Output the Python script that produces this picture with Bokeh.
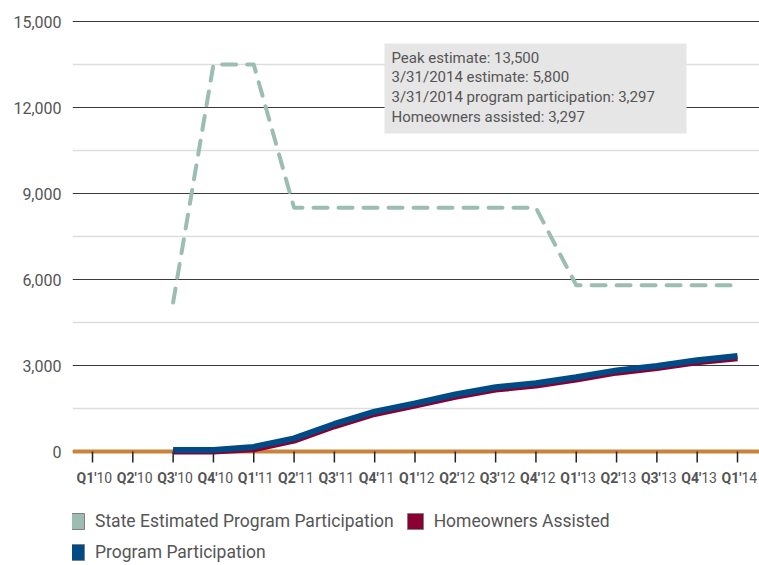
import math
from bokeh.plotting import figure
from bokeh.models import (Range1d, FixedTicker, NumeralTickFormatter, Span, Legend,
                          LegendItem, Label, BoxAnnotation)
from bokeh.core.properties import value
from bokeh.embed import file_html
from bokeh.resources import INLINE

NaN = float("nan")

quarters = ["Q1'10", "Q2'10", "Q3'10", "Q4'10", "Q1'11", "Q2'11", "Q3'11", "Q4'11",
            "Q1'12", "Q2'12", "Q3'12", "Q4'12", "Q1'13", "Q2'13", "Q3'13", "Q4'13", "Q1'14"]

state_estimated = [NaN, NaN, 5200, 13500, 13500, 8500, 8500, 8500, 8500, 8500, 8500, 8500,
                   5800, 5800, 5800, 5800, 5800]
program_participation = [NaN, NaN, 50, 50, 160, 460, 960, 1390, 1680, 1990, 2240, 2380,
                         2590, 2830, 2980, 3180, 3330]
homeowners_assisted = [NaN, NaN, 0, 0, 80, 380, 880, 1310, 1600, 1910, 2160, 2300,
                       2510, 2750, 2910, 3110, 3250]

y_ticks = [0, 3000, 6000, 9000, 12000, 15000]
y_minor = [1500, 4500, 7500, 10500, 13500]

legend_labels = ["State Estimated Program Participation", "Homeowners Assisted",
                 "Program Participation"]
note_lines = ["Peak estimate: 13,500", "3/31/2014 estimate: 5,800",
              "3/31/2014 program participation: 3,297", "Homeowners assisted: 3,297"]

C_STATE = "#9cbdb1"
C_HOME = "#8a0033"
C_PROG = "#004a86"
C_AXIS = "#c9843c"
C_TEXT = "#555555"
FONT = "Roboto"

W, H = 759, 565
LEFT = 72
frame_w = W - LEFT
dx = 40.3125                 # px per quarter
dy = 430 / 15000             # px per unit
x_start = -20 / dx
x_end = (frame_w - 20) / dx
y_end = 15000 + 21 / dy
y_start = y_end - H / dy

xs = list(range(len(quarters)))

p = figure(width=W, height=H, x_range=Range1d(x_start, x_end), y_range=Range1d(y_start, y_end),
           x_axis_type=None, output_backend="svg", toolbar_location=None,
           min_border_left=LEFT, min_border_right=0, min_border_top=0, min_border_bottom=0)
p.outline_line_color = None
p.background_fill_color = "white"

# y axis
p.yaxis.ticker = FixedTicker(ticks=y_ticks, minor_ticks=y_minor)
p.yaxis.formatter = NumeralTickFormatter(format="0,0")
p.yaxis.axis_line_color = None
p.yaxis.major_tick_line_color = None
p.yaxis.major_tick_out = 0
p.yaxis.major_tick_in = 0
p.yaxis.minor_tick_line_color = None
p.yaxis.minor_tick_out = 0
p.yaxis.major_label_standoff = 11
p.yaxis.major_label_text_font = FONT
p.yaxis.major_label_text_font_size = "16px"
p.yaxis.major_label_text_color = C_TEXT
p.yaxis.major_label_text_baseline = "bottom"

p.ygrid.ticker = FixedTicker(ticks=y_ticks, minor_ticks=y_minor)
p.ygrid.grid_line_color = "#3a3a3a"
p.ygrid.grid_line_width = 1.2
p.ygrid.minor_grid_line_color = "#dddddd"
p.ygrid.minor_grid_line_width = 1.5

# baseline
p.add_layout(Span(location=0, dimension="width", line_color=C_AXIS, line_width=4, level="underlay"))

# x ticks
tick_len = 11 / dy
p.segment(x0=xs, y0=[0] * len(xs), x1=xs, y1=[-tick_len] * len(xs), line_color="#222222",
          line_width=1.5)

# x tick labels (bold quarter, regular year)
p.text(x=xs, y=[0] * len(xs), text=[q[:3] for q in quarters], text_align="right",
       text_baseline="middle", x_offset=4, y_offset=26, text_font=value(FONT),
       text_font_style="bold", text_font_size="14px", text_color=C_TEXT)
p.text(x=xs, y=[0] * len(xs), text=[q[3:] for q in quarters], text_align="left",
       text_baseline="middle", x_offset=4, y_offset=26, text_font=value(FONT),
       text_font_size="14px", text_color=C_TEXT)

# data lines
p.line(xs, state_estimated, line_color=C_STATE, line_width=4, line_dash="14 11",
       line_cap="round", line_join="round")
p.line(xs, homeowners_assisted, line_color=C_HOME, line_width=6)
p.line(xs, program_participation, line_color=C_PROG, line_width=6)

# legend proxies (no visible data)
r_state = p.quad(left=[NaN], right=[NaN], top=[NaN], bottom=[NaN], fill_color=C_STATE, line_color="#808080")
r_home = p.quad(left=[NaN], right=[NaN], top=[NaN], bottom=[NaN], fill_color=C_HOME, line_color="#808080")
r_prog = p.quad(left=[NaN], right=[NaN], top=[NaN], bottom=[NaN], fill_color=C_PROG, line_color="#808080")

legend = Legend(items=[LegendItem(label=legend_labels[0], renderers=[r_state]),
                       LegendItem(label=legend_labels[1], renderers=[r_home]),
                       LegendItem(label=legend_labels[2], renderers=[r_prog])],
                location=(-6, 3), orientation="horizontal", ncols=2,
                glyph_width=20, glyph_height=20, label_standoff=9, spacing=11,
                padding=0, margin=0, border_line_color=None, background_fill_alpha=0,
                label_text_font=FONT, label_text_font_size="17.5px",
                label_text_color=C_TEXT, label_height=20)
p.add_layout(legend)

# note box
p.add_layout(BoxAnnotation(left=(384 - 92) / dx, right=(686 - 92) / dx,
                           top=(451 - 43) / dy, bottom=(451 - 133) / dy,
                           fill_color="#e6e6e6", fill_alpha=1, line_color=None))
note = Label(x=(391 - 92) / dx, y=(451 - 48) / dy, x_units="data", y_units="data",
             text="\n".join(note_lines), text_align="left", text_baseline="top",
             text_font=FONT, text_font_size="15px", text_color=C_TEXT,
             text_line_height=1.1)
p.add_layout(note)

open("out.html", "w").write(file_html(p, INLINE))
